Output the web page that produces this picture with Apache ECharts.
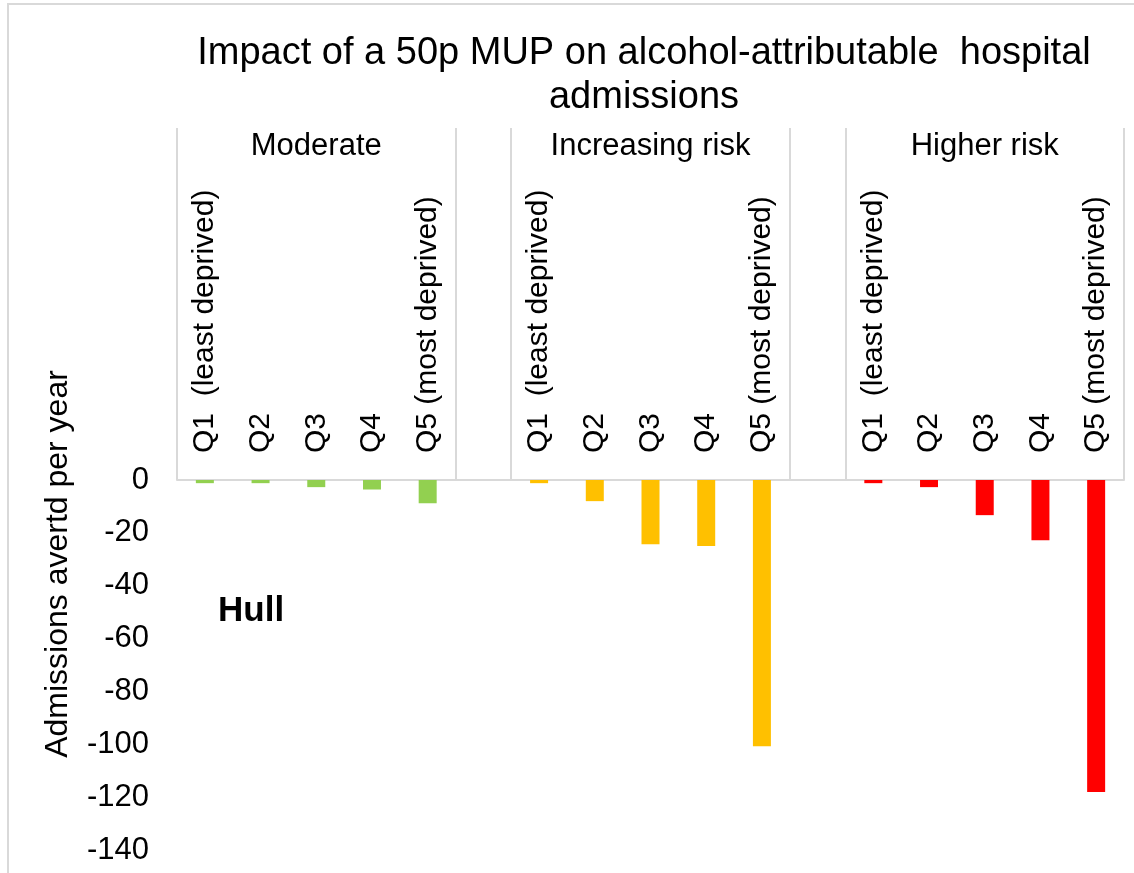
<!DOCTYPE html>
<html>
<head>
<meta charset="utf-8">
<script src="https://cdn.jsdelivr.net/npm/echarts@6/dist/echarts.min.js"></script>
<style>
  html, body { margin: 0; padding: 0; background: #fff; }
  #chart { width: 1134px; height: 873px; }
</style>
</head>
<body>
<div id="chart"></div>
<script>
// Deprivation quintiles shown inside each drinker group
const quintiles = ['Q1  (least deprived)', 'Q2', 'Q3', 'Q4', 'Q5 (most deprived)'];
// Drinker groups
const groups = ['Moderate', 'Increasing risk', 'Higher risk'];
// Admissions averted per year, Q1..Q5
const moderate = [-1.2, -1.2, -2.7, -3.6, -8.8];
const increasingRisk = [-1.2, -8.0, -24.3, -25.0, -100.7];
const higherRisk = [-1.2, -2.7, -13.3, -22.8, -118.1];
// Value axis ticks
const yMin = -140, yMax = 0, yStep = 20;

const groupValues = [moderate, increasingRisk, higherRisk];
const groupColors = ['#92D050', '#FFC000', '#FF0000'];

// Build the 17 slots: 5 quintiles per group with a blank slot between groups
const slotLabels = [];
const groupLabels = [];
const groupBoundaries = [];
const seriesData = groups.map(() => []);
groups.forEach((g, gi) => {
  if (gi > 0) {
    groupBoundaries.push(slotLabels.length);
    slotLabels.push('');
    groupLabels.push('');
    seriesData.forEach(s => s.push(null));
  }
  groupBoundaries.push(slotLabels.length);
  quintiles.forEach((q, qi) => {
    slotLabels.push(q);
    groupLabels.push(qi === 2 ? g : '');
    seriesData.forEach((s, si) => s.push(si === gi ? groupValues[gi][qi] : null));
  });
});

const chart = echarts.init(document.getElementById('chart'));
const FONT = '"Liberation Sans", Arial, sans-serif';

chart.setOption({
  animation: false,
  backgroundColor: '#ffffff',
  title: {
    text: 'Impact of a 50p MUP on alcohol-attributable  hospital\nadmissions',
    left: 639,
    top: 27,
    textAlign: 'center',
    textStyle: { fontFamily: FONT, fontSize: 38, fontWeight: 'normal', color: '#000', lineHeight: 44 }
  },
  grid: { left: 177, right: 10, top: 480, bottom: 23, containLabel: false },
  xAxis: [
    {
      type: 'category',
      position: 'top',
      data: slotLabels,
      axisLine: { show: true, lineStyle: { color: '#d9d9d9', width: 2 } },
      axisTick: { show: false },
      axisLabel: {
        interval: 0,
        rotate: 90,
        margin: 27,
        fontFamily: FONT,
        fontSize: 30,
        color: '#000'
      }
    },
    {
      type: 'category',
      position: 'top',
      data: groupLabels,
      axisLine: { show: false },
      axisTick: {
        show: true,
        length: 352,
        interval: (idx) => groupBoundaries.includes(idx),
        lineStyle: { color: '#d9d9d9', width: 2 }
      },
      axisLabel: {
        interval: 0,
        margin: 318,
        fontFamily: FONT,
        fontSize: 31,
        color: '#000'
      }
    }
  ],
  yAxis: {
    type: 'value',
    min: yMin,
    max: yMax,
    interval: yStep,
    axisLine: { show: false },
    axisTick: { show: false },
    splitLine: { show: false },
    axisLabel: { margin: 28, fontFamily: FONT, fontSize: 31, color: '#000' }
  },
  series: groups.map((g, gi) => ({
    name: g,
    type: 'bar',
    stack: 'all',
    xAxisIndex: 0,
    barWidth: 18,
    data: seriesData[gi],
    itemStyle: { color: groupColors[gi] },
    z: 1
  })),
  graphic: [
    {
      type: 'rect',
      shape: { x: 8, y: 4, width: 1150, height: 900 },
      style: { fill: 'none', stroke: '#d9d9d9', lineWidth: 2 },
      silent: true
    },
    {
      type: 'text',
      x: 58,
      y: 564,
      rotation: Math.PI / 2,
      style: {
        text: 'Admissions avertd per year',
        fontFamily: FONT,
        fontSize: 32,
        fill: '#000',
        textAlign: 'center',
        textVerticalAlign: 'middle'
      }
    },
    {
      type: 'text',
      x: 218,
      y: 611,
      style: {
        text: 'Hull',
        fontFamily: FONT,
        fontSize: 35,
        fontWeight: 'bold',
        fill: '#000',
        textAlign: 'left',
        textVerticalAlign: 'middle'
      }
    }
  ]
});
</script>
</body>
</html>
